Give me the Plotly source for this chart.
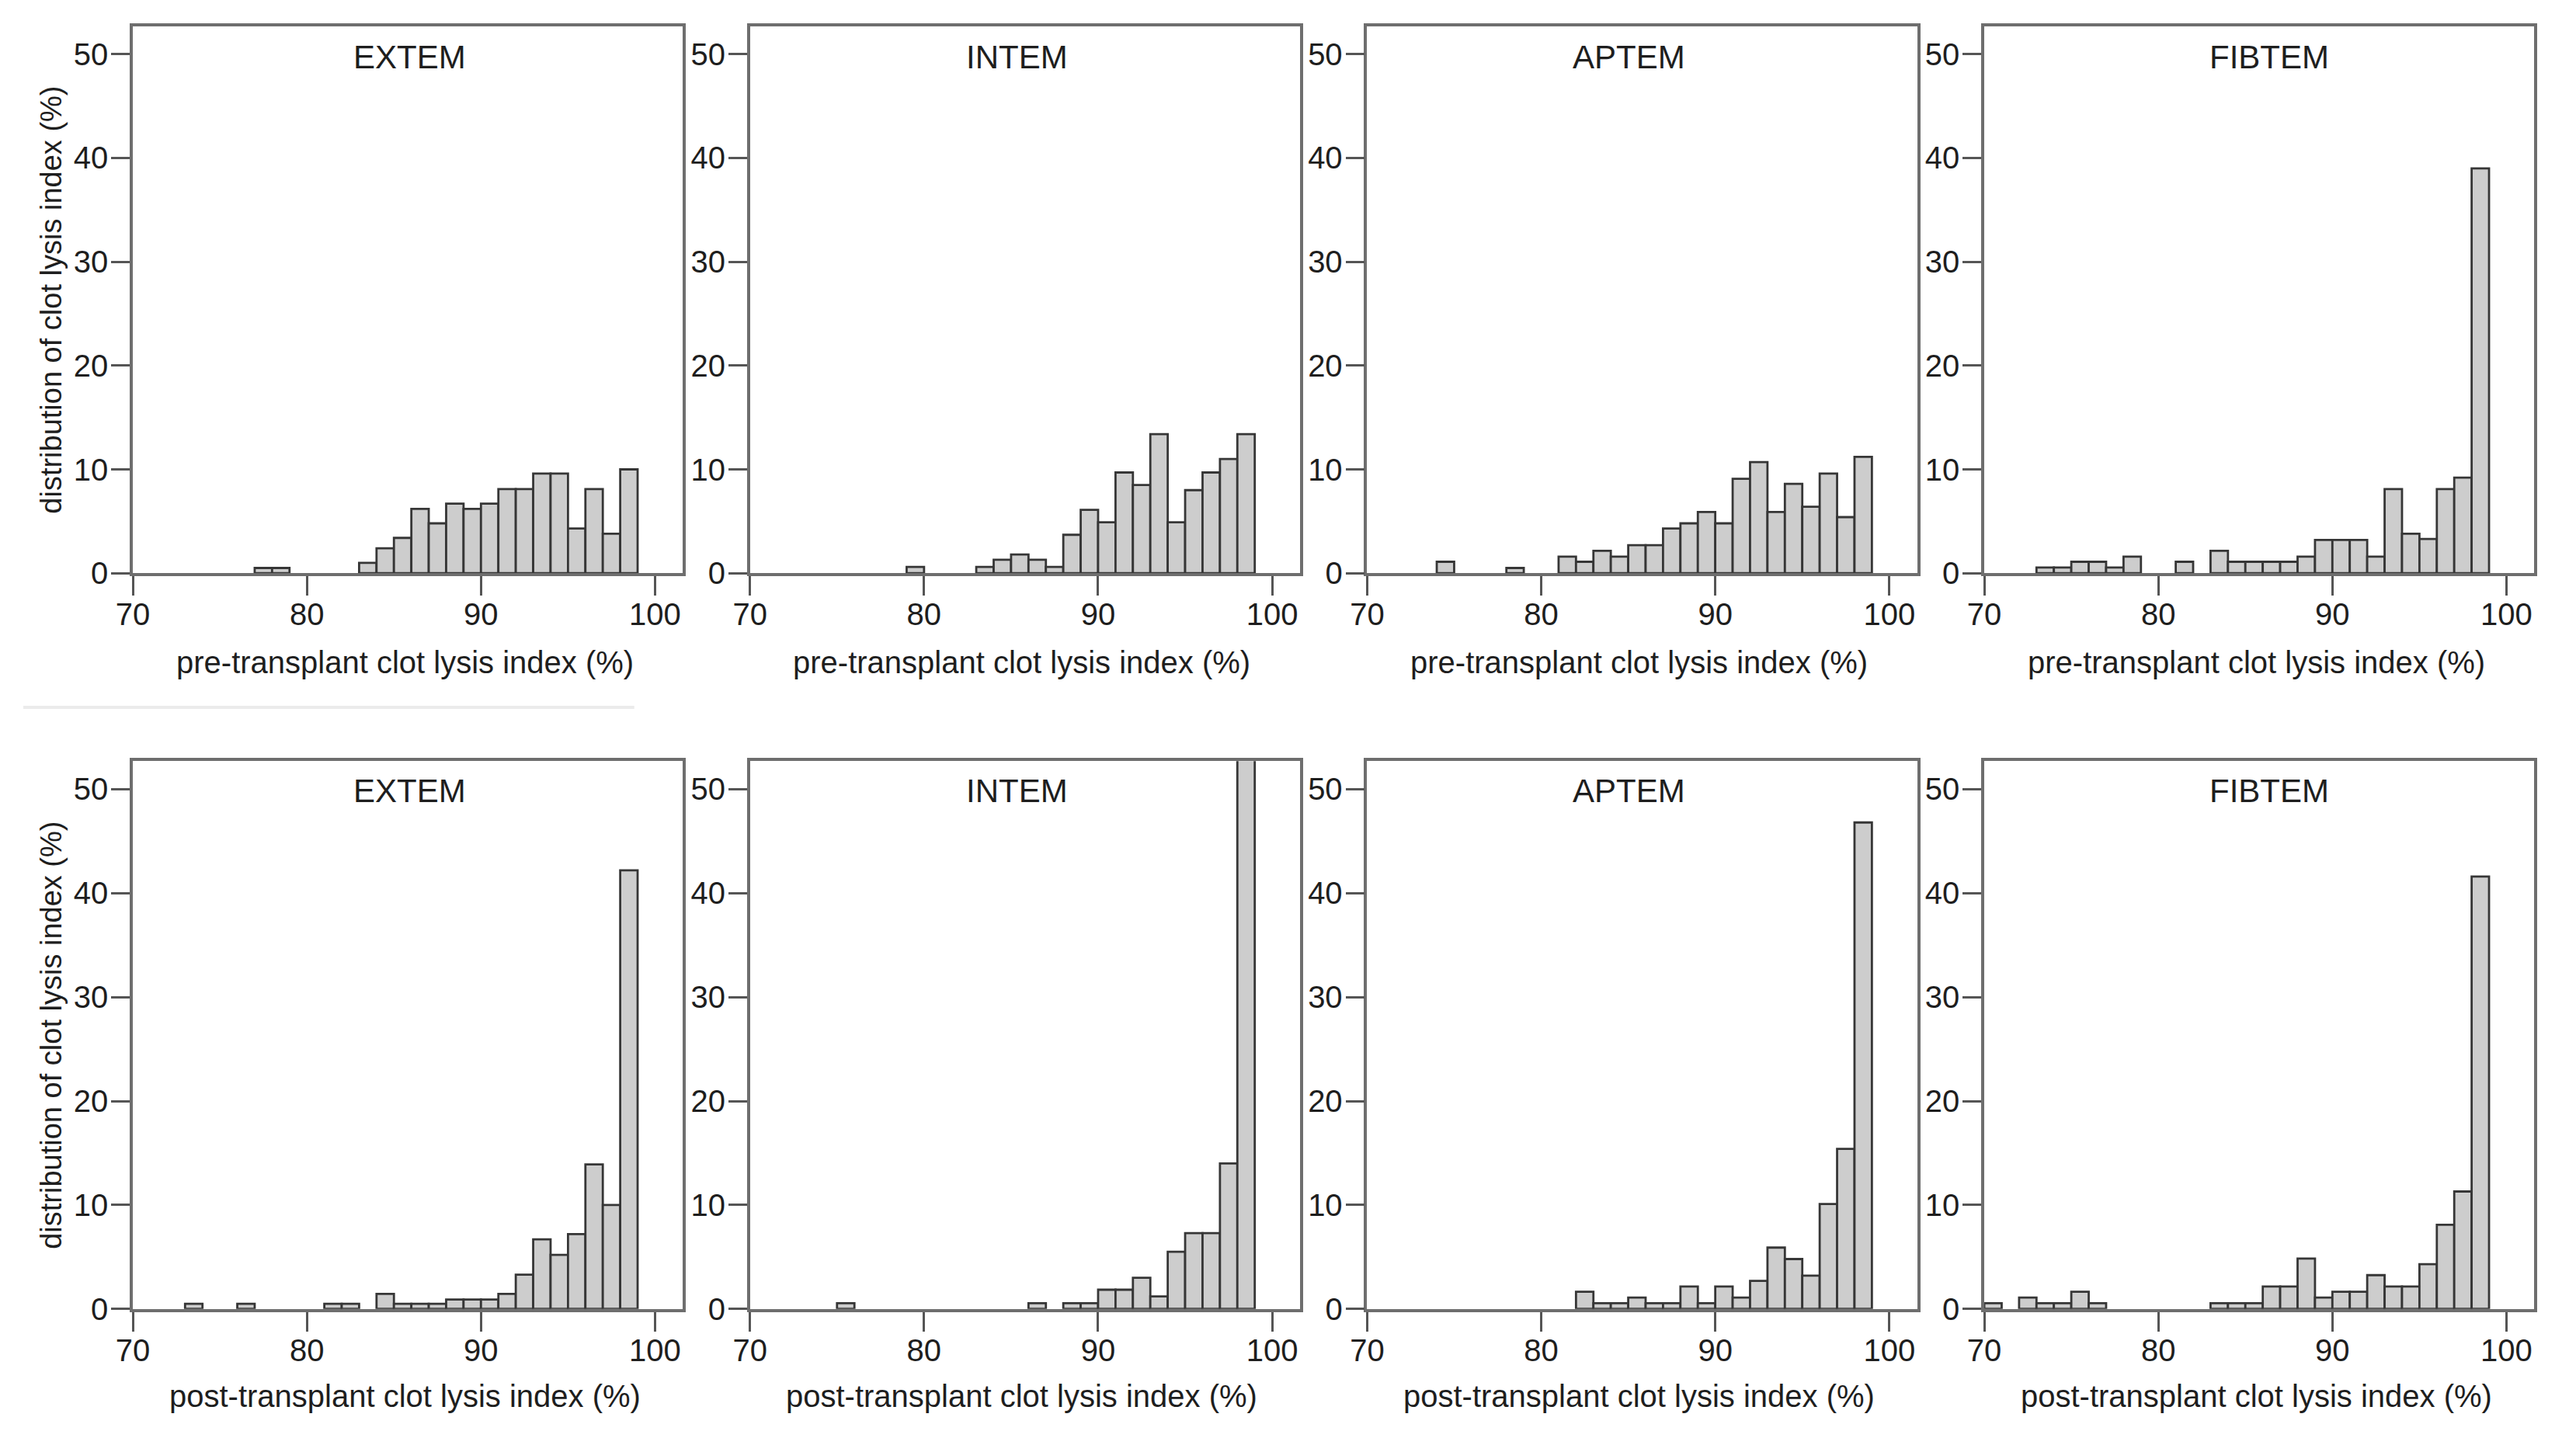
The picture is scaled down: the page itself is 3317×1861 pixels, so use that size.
import plotly.graph_objects as go

# ---------------- data ----------------
bin_left = list(range(70, 99))  # 1-unit bins: 70-71 ... 98-99

extem_pre = [0, 0, 0, 0, 0, 0, 0, 0.5, 0.5, 0, 0, 0, 0, 1.0, 2.4, 3.4, 6.2, 4.8, 6.7, 6.2, 6.7, 8.1, 8.1, 9.6, 9.6, 4.3, 8.1, 3.8, 10.0]
intem_pre = [0, 0, 0, 0, 0, 0, 0, 0, 0, 0.6, 0, 0, 0, 0.6, 1.3, 1.8, 1.3, 0.6, 3.7, 6.1, 4.9, 9.7, 8.5, 13.4, 4.9, 8.0, 9.7, 11.0, 13.4]
aptem_pre = [0, 0, 0, 0, 1.1, 0, 0, 0, 0.5, 0, 0, 1.6, 1.1, 2.15, 1.6, 2.7, 2.7, 4.3, 4.8, 5.9, 4.8, 9.1, 10.7, 5.9, 8.6, 6.4, 9.6, 5.4, 11.2]
fibtem_pre = [0, 0, 0, 0.55, 0.55, 1.1, 1.1, 0.55, 1.6, 0, 0, 1.1, 0, 2.15, 1.1, 1.1, 1.1, 1.1, 1.6, 3.2, 3.2, 3.2, 1.6, 8.1, 3.8, 3.3, 8.1, 9.2, 39.0]

extem_post = [0, 0, 0, 0.5, 0, 0, 0.5, 0, 0, 0, 0, 0.5, 0.5, 0, 1.45, 0.5, 0.5, 0.5, 0.9, 0.9, 0.9, 1.45, 3.3, 6.7, 5.2, 7.2, 13.9, 10.0, 42.2]
intem_post = [0, 0, 0, 0, 0, 0.55, 0, 0, 0, 0, 0, 0, 0, 0, 0, 0, 0.55, 0, 0.55, 0.55, 1.85, 1.85, 3.0, 1.2, 5.5, 7.3, 7.3, 14.0, 53.5]
aptem_post = [0, 0, 0, 0, 0, 0, 0, 0, 0, 0, 0, 0, 1.65, 0.55, 0.55, 1.1, 0.55, 0.55, 2.15, 0.55, 2.15, 1.1, 2.7, 5.9, 4.8, 3.2, 10.1, 15.4, 46.8]
fibtem_post = [0.55, 0, 1.1, 0.55, 0.55, 1.65, 0.55, 0, 0, 0, 0, 0, 0, 0.55, 0.55, 0.55, 2.15, 2.15, 4.85, 1.1, 1.65, 1.65, 3.25, 2.15, 2.15, 4.3, 8.1, 11.3, 41.6]

assays = ["EXTEM", "INTEM", "APTEM", "FIBTEM"]
x_titles = ["pre-transplant clot lysis index (%)", "post-transplant clot lysis index (%)"]
y_title = "distribution of clot lysis index (%)"
x_ticks = [70, 80, 90, 100]
y_ticks = [0, 10, 20, 30, 40, 50]

panels = [
    [extem_pre, intem_pre, aptem_pre, fibtem_pre],
    [extem_post, intem_post, aptem_post, fibtem_post],
]

# ---------------- layout geometry (page pixels) ----------------
PAGE_W, PAGE_H = 3317, 1861
OFF = 8                      # default body margin of the page
W, H = PAGE_W - 2 * OFF, PAGE_H - 2 * OFF
col_left = [150, 950, 1750, 2550]
col_w = 713
row_top = [34, 992]
row_zero = [747, 1706]
title_off = [40, 39]
xtitle_off = [116, 114]
title_dx = [6, -6, -13, 17]


def px(X):
    return (X - OFF) / W


def py(Y):
    return 1 - (Y - OFF) / H


FONT = "Liberation Sans, Arial, Helvetica, sans-serif"
TXT = "#1e1e1e"
FRAME = "#6e6e6e"

fig = go.Figure()
layout = dict(
    width=W, height=H,
    margin=dict(l=0, r=0, t=0, b=0),
    paper_bgcolor="white", plot_bgcolor="white",
    showlegend=False,
    font=dict(family=FONT, color=TXT, size=40),
)
annotations = []

n = 0
for r in range(2):
    for c in range(4):
        n += 1
        vals = panels[r][c]
        xs = [b + 0.5 for b, v in zip(bin_left, vals) if v > 0]
        ys = [v for v in vals if v > 0]
        xa = "x" if n == 1 else f"x{n}"
        ya = "y" if n == 1 else f"y{n}"
        fig.add_trace(go.Bar(
            x=xs, y=ys, width=1.0, xaxis=xa, yaxis=ya,
            marker=dict(color="#cdcdcd", line=dict(color="#363636", width=2.8)),
            hoverinfo="x+y",
        ))
        l = col_left[c]
        top = row_top[r]
        zero = row_zero[r]
        layout["xaxis" if n == 1 else f"xaxis{n}"] = dict(
            domain=[px(l), px(l + col_w)],
            range=[70, 101.6], anchor=ya,
            tickvals=x_ticks, ticks="outside", ticklen=25, tickwidth=3, tickcolor="#555555",
            ticklabelstandoff=-10,
            showline=True, mirror=True, linecolor=FRAME, linewidth=3.5,
            showgrid=False, zeroline=False, fixedrange=True,
            tickfont=dict(size=40, color=TXT, family=FONT),
        )
        layout["yaxis" if n == 1 else f"yaxis{n}"] = dict(
            domain=[py(zero), py(top)],
            range=[0, 52.7], anchor=xa,
            tickvals=y_ticks, ticks="outside", ticklen=24, tickwidth=3, tickcolor="#555555",
            ticklabelstandoff=-4,
            showline=True, mirror=True, linecolor=FRAME, linewidth=3.5,
            showgrid=False, zeroline=False, fixedrange=True,
            tickfont=dict(size=40, color=TXT, family=FONT),
        )
        cx = px(l + col_w / 2 - 4)
        annotations.append(dict(
            text=assays[c], x=px(l + col_w / 2 - 4 + title_dx[c]), y=py(top + title_off[r]),
            xref="paper", yref="paper",
            xanchor="center", yanchor="middle", showarrow=False,
            font=dict(size=42, color=TXT, family=FONT),
        ))
        annotations.append(dict(
            text=x_titles[r], x=cx, y=py(zero + xtitle_off[r]), xref="paper", yref="paper",
            xanchor="center", yanchor="middle", showarrow=False,
            font=dict(size=40, color=TXT, family=FONT),
        ))
        if c == 0:
            annotations.append(dict(
                text=y_title, x=px(44), y=py((top + zero) / 2), xref="paper", yref="paper",
                xanchor="center", yanchor="middle", showarrow=False, textangle=-90,
                font=dict(size=38, color=TXT, family=FONT),
            ))

layout["annotations"] = annotations
layout["shapes"] = [dict(
    type="line", xref="paper", yref="paper",
    x0=0, x1=px(800), y0=py(922), y1=py(922),
    line=dict(color="#ebebeb", width=4),
)]
fig.update_layout(**layout)

fig.write_html("out.html")
